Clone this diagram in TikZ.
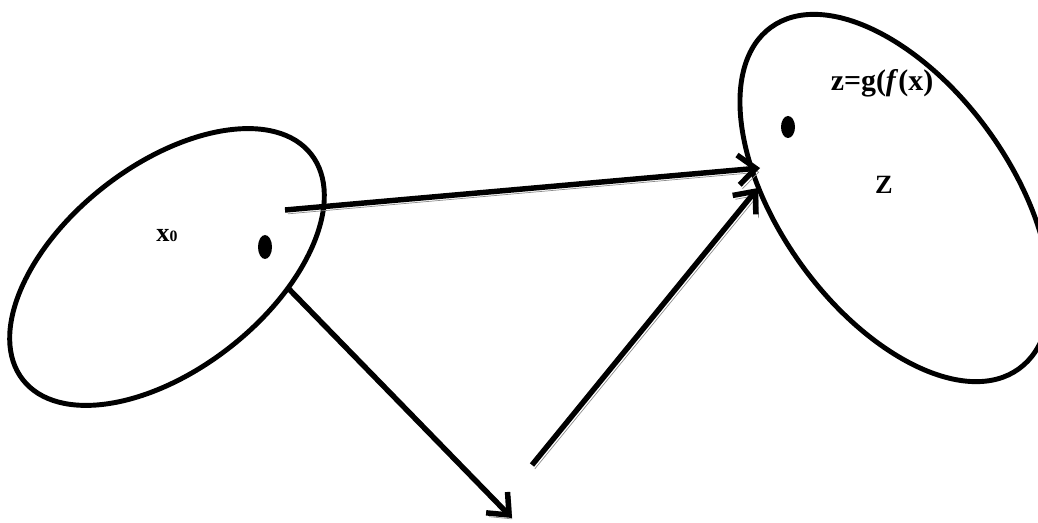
\documentclass[tikz,border=0pt]{standalone}
\usepackage{fontspec}
\setmainfont{Liberation Serif}
\usetikzlibrary{arrows.meta}
\begin{document}
\begin{tikzpicture}[x=0.02cm, y=-0.02cm,
    set/.style={line width=2.8pt},
    elem/.style={fill=black},
    maparrow/.style={line width=3.1pt, -{Straight Barb[length=10pt, width=17pt]},
      preaction={draw=black!45, transform canvas={shift={(1.6pt,-2.2pt)}}}},
    lbl/.style={inner sep=0pt, font=\fontsize{15}{17}\selectfont\bfseries}]
  \useasboundingbox (0,0) rectangle (1038,523);
  % the two sets
  \coordinate (X) at (167,267);
  \coordinate (Z) at (895,198);
  \draw[set, rotate around={38:(X)}] (X) ellipse [x radius=183, y radius=102];
  \draw[set, rotate around={-54:(Z)}] (Z) ellipse [x radius=211, y radius=115];
  % points
  \coordinate (x0) at (265,247);
  \coordinate (z) at (788,127);
  \fill[elem] (x0) ellipse [x radius=7, y radius=12];
  \fill[elem] (z) ellipse [x radius=7, y radius=11];
  \node[lbl] (xlbl) at (167,236) {x{\small 0}};
  \node[lbl] (Zlbl) at (884,185) {Z};
  \node[lbl, font=\fontsize{17}{19}\selectfont\bfseries] (zlbl) at (882,83) {z=g(\textit{f}(x)};
  % maps
  \coordinate (s1) at (285,210);
  \coordinate (e1) at (760,168);
  \coordinate (s2) at (287,287);
  \coordinate (e2) at (512,518);
  \coordinate (s3) at (532,465);
  \coordinate (e3) at (758,188);
  \draw[maparrow] (s1) -- (e1);
  \draw[maparrow] (s2) -- (e2);
  \draw[maparrow] (s3) -- (e3);
\end{tikzpicture}
\end{document}
